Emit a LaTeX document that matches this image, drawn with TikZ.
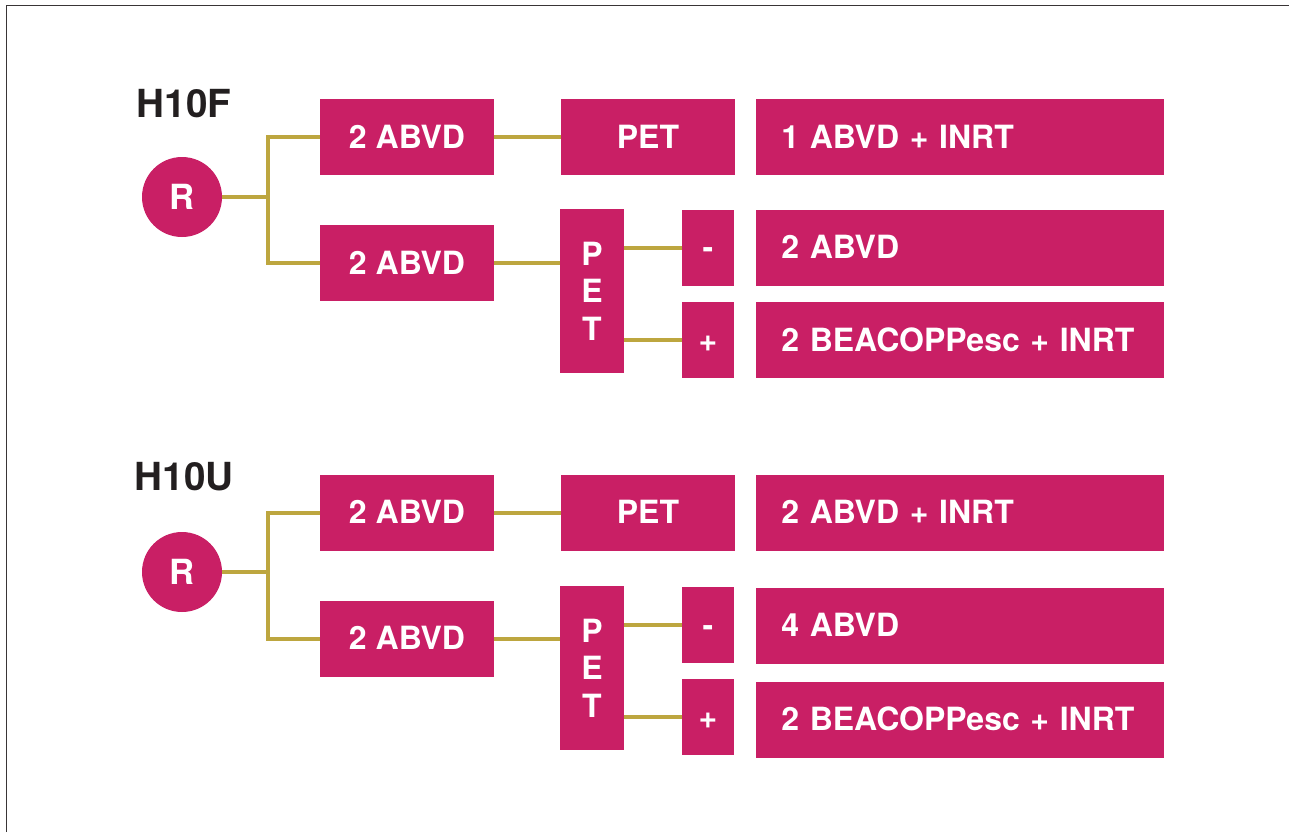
\documentclass[tikz,border=0pt]{standalone}
\usepackage{fontspec}
\setmainfont{TeX Gyre Heros}
\definecolor{berry}{HTML}{C91F65}
\definecolor{ochre}{HTML}{BDA63F}
\definecolor{ink}{HTML}{231F20}
\tikzset{
  arm/.style={rectangle, fill=berry, text=white, inner sep=0pt,
    font=\bfseries\fontsize{24}{28}\selectfont, text height=17pt, text depth=0pt,
    minimum width=130.5pt, minimum height=57pt},
  sign/.style={arm, minimum width=39pt},
  petcol/.style={rectangle, fill=berry, text=white, inner sep=0pt, align=center,
    font=\bfseries\fontsize{24}{28}\selectfont,
    minimum width=48pt, minimum height=123pt},
  regimen/.style={arm, minimum width=0pt, text width=268pt, align=left, inner xsep=19pt},
  rand/.style={circle, fill=berry, text=white, inner sep=0pt, minimum size=60pt,
    font=\bfseries\fontsize{26}{30}\selectfont},
  trial/.style={text=ink, font=\bfseries\fontsize{29}{34}\selectfont},
  link/.style={draw=ochre, line width=3pt}
}
\begin{document}
\begin{tikzpicture}[x=0.75pt, y=-0.75pt]
    \useasboundingbox (0,0) rectangle (1289,832);
    \draw[color=ink!90, line width=1.1pt] (6.5,832) -- (6.5,5.5) -- (1289,5.5);

    \node[trial] (lab1) at (184,104) {H10F};
    \node[rand] (r1) at (182,197) {R};
    \coordinate (j1) at (268,197);
    \node[arm] (a1) at (407,137) {2 ABVD};
    \node[arm] (b1) at (407,263) {2 ABVD};
    \node[arm] (p1) at (648,137) {PET};
    \node[petcol] (q1) at (592,291) {P\\E\\T};
    \node[sign] (m1) at (708,247.5) {-};
    \node[sign] (n1) at (708,340) {+};
    \node[regimen] (c1) at (960,137) {1 ABVD + INRT};
    \node[regimen] (d1) at (960,247.5) {2 ABVD};
    \node[regimen] (e1) at (960,340) {2 BEACOPPesc + INRT};
    \draw[link] (r1) -- (j1);
    \draw[link] (a1.west) -| (j1) |- (b1.west);
    \draw[link] (a1) -- (p1);
    \draw[link] (b1.east) -- (b1.east -| q1.west);
    \draw[link] (q1.east |- m1) -- (m1.west);
    \draw[link] (q1.east |- n1) -- (n1.west);

    \node[trial] (lab2) at (184,477) {H10U};
    \node[rand] (r2) at (182,572) {R};
    \coordinate (j2) at (268,572);
    \node[arm] (a2) at (407,512.5) {2 ABVD};
    \node[arm] (b2) at (407,638.5) {2 ABVD};
    \node[arm] (p2) at (648,512.5) {PET};
    \node[petcol] (q2) at (592,668) {P\\E\\T};
    \node[sign] (m2) at (708,625) {-};
    \node[sign] (n2) at (708,717) {+};
    \node[regimen] (c2) at (960,512.5) {2 ABVD + INRT};
    \node[regimen] (d2) at (960,625.5) {4 ABVD};
    \node[regimen] (e2) at (960,719.5) {2 BEACOPPesc + INRT};
    \draw[link] (r2) -- (j2);
    \draw[link] (a2.west) -| (j2) |- (b2.west);
    \draw[link] (a2) -- (p2);
    \draw[link] (b2.east) -- (b2.east -| q2.west);
    \draw[link] (q2.east |- m2) -- (m2.west);
    \draw[link] (q2.east |- n2) -- (n2.west);
\end{tikzpicture}
\end{document}
